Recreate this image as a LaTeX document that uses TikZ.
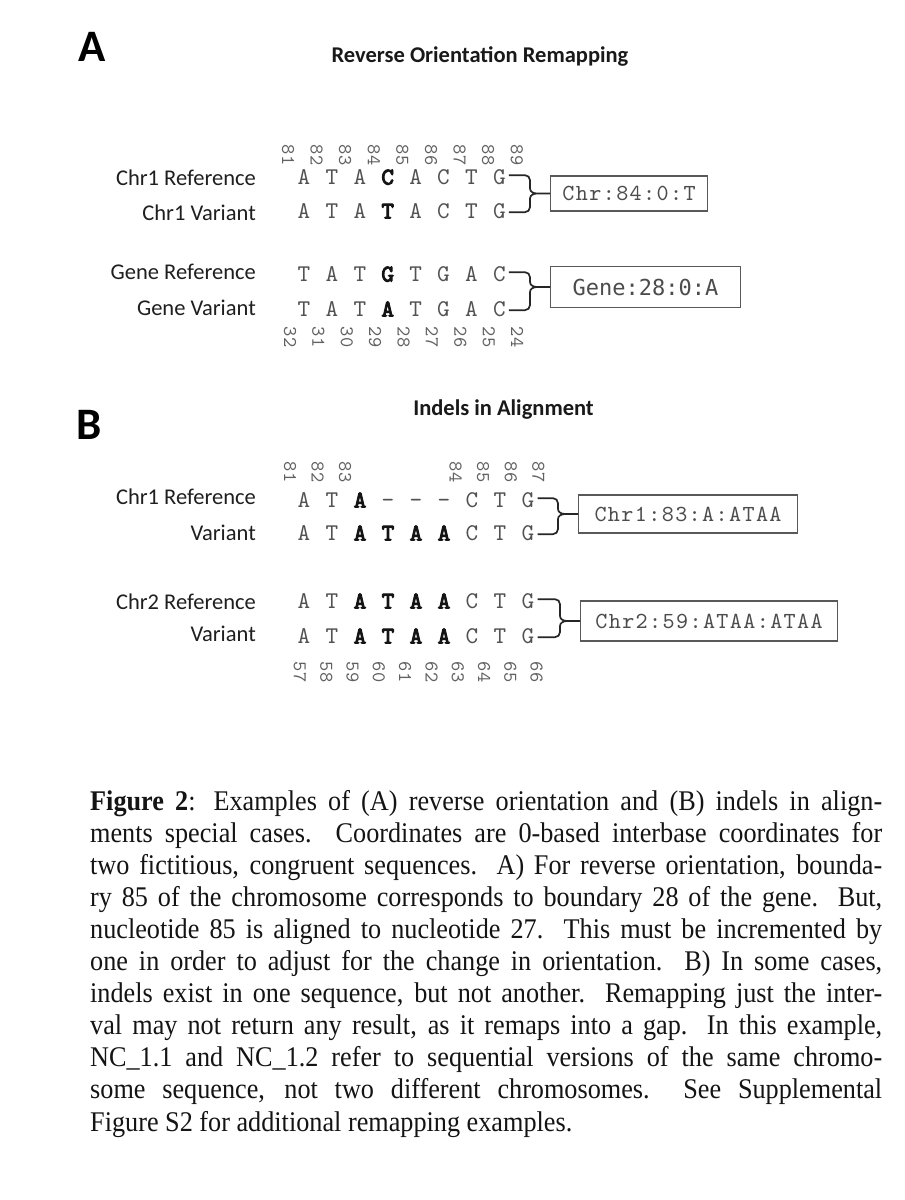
\documentclass[tikz,border=0pt]{standalone}
\usepackage{fontspec}
\setmainfont{Liberation Serif}[FakeStretch=0.92]
\newfontfamily\calib{Carlito}
\newfontfamily\seqf{lmmono10-regular.otf}
\newfontfamily\seqbf{lmmono10-regular.otf}[FakeBold=4]
\newfontfamily\numf{lmmono10-regular.otf}[LetterSpace=4]
\newfontfamily\boxf{lmmono10-regular.otf}[LetterSpace=6]
\newfontfamily\genef{DejaVu Sans Mono}
\usetikzlibrary{calc}
\tikzset{
  panel/.style={font=\calib\bfseries\fontsize{45}{50}\selectfont, text=black, anchor=base, inner sep=0},
  ttl/.style={font=\calib\bfseries\fontsize{22.5}{26}\selectfont, text=black!90, anchor=base, inner sep=0},
  lab/.style={font=\calib\fontsize{22.5}{26}\selectfont, text=black!88, anchor=base east, inner sep=0},
  sq/.style={font=\seqf\fontsize{24}{26}\selectfont, text=black!68, anchor=base, inner sep=0},
  sqb/.style={font=\seqbf\fontsize{24}{26}\selectfont, text=black!92, anchor=base, inner sep=0},
  num/.style={font=\numf\fontsize{19.5}{21}\selectfont, text=black!62, rotate=-90, inner sep=0},
  rbox/.style={draw=black!65, line width=1.1pt, font=\boxf\fontsize{23}{25}\selectfont, text=black!70, anchor=west, inner sep=0},
  brc/.style={line width=1.7pt, draw=black!85},
  captxt/.style={anchor=base west, inner sep=0, font=\fontsize{28.5}{32}\selectfont, text=black!92},
}
\newcommand\seqbrace[3]{%
  \draw[brc] let \p1=(#1.east), \p2=(#2.east), \p3=(#3.west), \p4=($(#3.west)+(-20pt,0pt)$) in
    (\x1+3pt,\y1+2pt) -- (\x4-5pt,\y1+2pt) to[out=0,in=90] (\x4,\y1-3pt) -- (\x4,\y3+5pt)
    to[out=-90,in=180] (\x4+7pt,\y3) -- (\p3)
    (\x4+7pt,\y3) to[out=180,in=90] (\x4,\y3-5pt) -- (\x4,\y2+4pt)
    to[out=-90,in=0] (\x4-5pt,\y2-1pt) -- (\x2+3pt,\y2-1pt);}
\begin{document}
\begin{tikzpicture}[x=1pt,y=-1pt]
\useasboundingbox (0,0) rectangle (905,1200);
\fill[white] (0,0) rectangle (905,1200);

% ---------- Panel A ----------
\node[panel] (pA) at (92,61.5) {A};
\node[ttl] (tA) at (480,62) {Reverse Orientation Remapping};
\node[lab] (lA1) at (256,185) {Chr1 Reference};
\node[lab] (lA2) at (256,220) {Chr1 Variant};
\node[lab] (lA3) at (256,279) {Gene Reference};
\node[lab] (lA4) at (256,315) {Gene Variant};

\foreach \n [count=\i from 0] in {81,82,83,84,85,86,87,88,89}
  \node[num] (na-\i) at ({288+28.6*\i},155) {\n};
\foreach \c/\s [count=\i from 0] in {A/sq,T/sq,A/sq,C/sqb,A/sq,C/sq,T/sq,G/sq}
  \node[\s] (ra-\i) at ({304+27.9*\i},184.5) {\c};
\foreach \c/\s [count=\i from 0] in {A/sq,T/sq,A/sq,T/sqb,A/sq,C/sq,T/sq,G/sq}
  \node[\s] (va-\i) at ({304+27.9*\i},218.5) {\c};
\node[rbox, minimum width=157pt, minimum height=35pt] (bA1) at (550,193.5) {Chr:84:0:T};
\seqbrace{ra-7}{va-7}{bA1}

\foreach \c/\s [count=\i from 0] in {T/sq,A/sq,T/sq,G/sqb,T/sq,G/sq,A/sq,C/sq}
  \node[\s] (rg-\i) at ({304+27.9*\i},281.5) {\c};
\foreach \c/\s [count=\i from 0] in {T/sq,A/sq,T/sq,A/sqb,T/sq,G/sq,A/sq,C/sq}
  \node[\s] (vg-\i) at ({304+27.9*\i},316.5) {\c};
\foreach \n [count=\i from 0] in {32,31,30,29,28,27,26,25,24}
  \node[num] (ng-\i) at ({290+28.4*\i},337) {\n};
\node[rbox, minimum width=190pt, minimum height=41pt, font=\genef\fontsize{22}{24}\selectfont] (bA2) at (550,287) {Gene:28:0:A};
\seqbrace{rg-7}{vg-7}{bA2}

% ---------- Panel B ----------
\node[panel] (pB) at (89,439.5) {B};
\node[ttl] (tB) at (503.5,415) {Indels in Alignment};
\node[lab] (lB1) at (256,504) {Chr1 Reference};
\node[lab] (lB2) at (256,540) {Variant};
\node[lab] (lB3) at (256,609) {Chr2 Reference};
\node[lab] (lB4) at (256,641) {Variant};

\foreach \n/\k in {81/0,82/1,83/2,84/6,85/7,86/8,87/9}
  \node[num] (nb-\k) at ({290+27.6*\k},472) {\n};
\foreach \c/\s [count=\i from 0] in {A/sq,T/sq,A/sqb,-/sq,-/sq,-/sq,C/sq,T/sq,G/sq}
  \node[\s] (rb-\i) at ({304+28*\i},507.5) {\c};
\foreach \c/\s [count=\i from 0] in {A/sq,T/sq,A/sqb,T/sqb,A/sqb,A/sqb,C/sq,T/sq,G/sq}
  \node[\s] (vb-\i) at ({304+28*\i},540.5) {\c};
\node[rbox, minimum width=219pt, minimum height=38pt] (bB1) at (578,514) {Chr1:83:A:ATAA};
\seqbrace{rb-8}{vb-8}{bB1}

\foreach \c/\s [count=\i from 0] in {A/sq,T/sq,A/sqb,T/sqb,A/sqb,A/sqb,C/sq,T/sq,G/sq}
  \node[\s] (rc-\i) at ({304+28*\i},608.5) {\c};
\foreach \c/\s [count=\i from 0] in {A/sq,T/sq,A/sqb,T/sqb,A/sqb,A/sqb,C/sq,T/sq,G/sq}
  \node[\s] (vc-\i) at ({304+28*\i},643.5) {\c};
\foreach \n [count=\i from 0] in {57,58,59,60,61,62,63,64,65,66}
  \node[num] (nc-\i) at ({300+26.3*\i},672) {\n};
\node[rbox, minimum width=257pt, minimum height=40pt] (bB2) at (580,621) {Chr2:59:ATAA:ATAA};
\seqbrace{rc-8}{vc-8}{bB2}

% ---------- Caption ----------
\node[captxt] (c1) at (90,810) {\makebox[792pt][s]{\textbf{Figure 2}: Examples of (A) reverse orientation and (B) indels in align-}};
\node[captxt] (c2) at (90,842.1) {\makebox[792pt][s]{ments special cases.\ \ Coordinates are 0-based interbase coordinates for}};
\node[captxt] (c3) at (90,874.2) {\makebox[792pt][s]{two fictitious, congruent sequences.\ \ A) For reverse orientation, bounda-}};
\node[captxt] (c4) at (90,906.3) {\makebox[792pt][s]{ry 85 of the chromosome corresponds to boundary 28 of the gene.\ \ But,}};
\node[captxt] (c5) at (90,938.4) {\makebox[792pt][s]{nucleotide 85 is aligned to nucleotide 27.\ \ This must be incremented by}};
\node[captxt] (c6) at (90,970.5) {\makebox[792pt][s]{one in order to adjust for the change in orientation.\ \ B) In some cases,}};
\node[captxt] (c7) at (90,1002.6) {\makebox[792pt][s]{indels exist in one sequence, but not another.\ \ Remapping just the inter-}};
\node[captxt] (c8) at (90,1034.7) {\makebox[792pt][s]{val may not return any result, as it remaps into a gap. In this example,}};
\node[captxt] (c9) at (90,1066.8) {\makebox[792pt][s]{NC\_1.1 and NC\_1.2 refer to sequential versions of the same chromo-}};
\node[captxt] (c10) at (90,1098.9) {\makebox[792pt][s]{some sequence, not two different chromosomes.\ \ See Supplemental}};
\node[captxt] (c11) at (90,1131) {Figure S2 for additional remapping examples.};
\end{tikzpicture}
\end{document}
